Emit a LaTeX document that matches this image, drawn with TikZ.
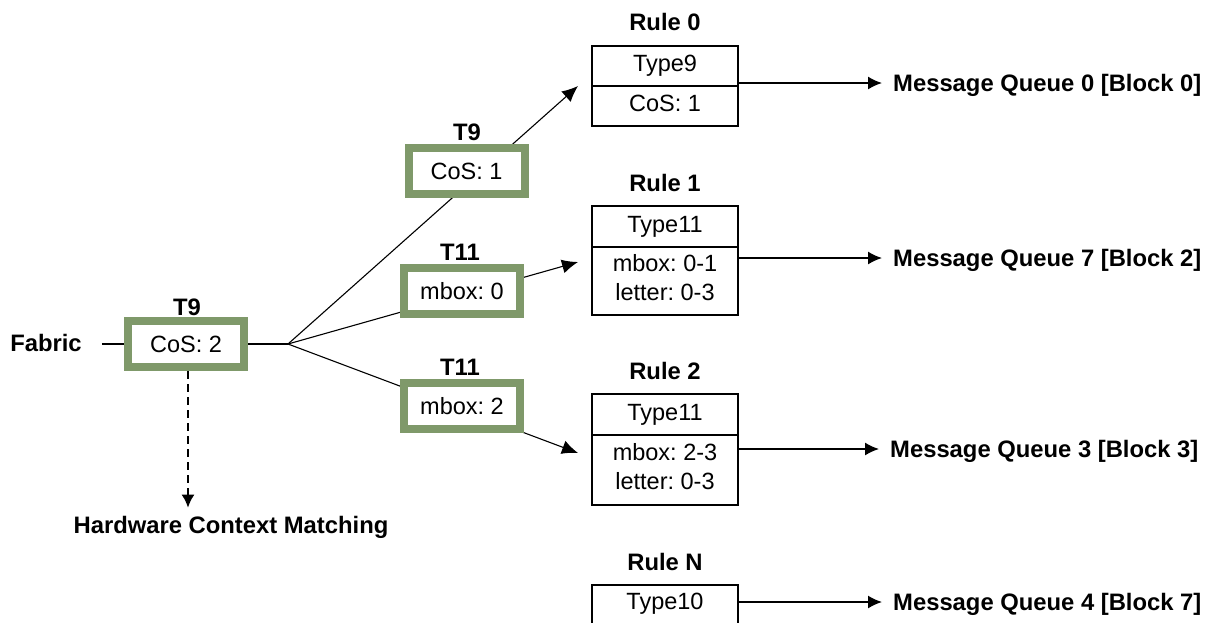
\documentclass[tikz,border=0pt]{standalone}
\usepackage{fontspec}
\setmainfont{Liberation Sans}
\usetikzlibrary{arrows.meta}
\definecolor{boxgreen}{RGB}{127,153,106}
\frenchspacing
\begin{document}
\begin{tikzpicture}[x=1pt,y=-1pt,
  txt/.style={inner sep=0pt, text height=16.8pt, text depth=0pt, font=\fontsize{23.5}{29}\selectfont},
  rtxt/.style={inner sep=0pt, text height=16.8pt, text depth=4.9pt, font=\fontsize{23.5}{29}\selectfont},
  lbl/.style={inner sep=0pt, text height=17pt, text depth=0pt, font=\fontsize{23.8}{28}\selectfont\bfseries},
  gbox/.style={txt, draw=boxgreen, line width=8pt, fill=white, minimum width=116pt, minimum height=46pt},
  rbox/.style={rtxt, draw, line width=1.4pt, minimum width=146pt},
  arr/.style={line width=1.5pt, -{Latex[length=14pt,width=13pt]}},
  diag/.style={line width=1.1pt, -{Latex[length=16pt,width=14pt]}},
  hwarr/.style={line width=2pt, dash pattern=on 8pt off 5pt, -{Latex[length=13pt,width=13pt]}},
]
\useasboundingbox (0,0) rectangle (1209,622);

% Rule boxes
\node[lbl] (rl0) at (665,22) {Rule 0};
\node[rbox, minimum height=40pt] (r0a) at (665,66) {Type9};
\node[rbox, minimum height=40pt] (r0b) at (665,106) {CoS: 1};

\node[lbl] (rl1) at (665,183) {Rule 1};
\node[rbox, minimum height=41pt] (r1a) at (665,226.5) {Type11};
\node[rbox, minimum height=68pt] (r1b) at (665,281) {};
\node[txt] (r1t1) at (665,263) {mbox: 0-1};
\node[txt] (r1t2) at (665,292) {letter: 0-3};

\node[lbl] (rl2) at (665,371) {Rule 2};
\node[rbox, minimum height=41pt] (r2a) at (665,414.5) {Type11};
\node[rbox, minimum height=70pt] (r2b) at (665,470) {};
\node[txt] (r2t1) at (665,452) {mbox: 2-3};
\node[txt] (r2t2) at (665,481.5) {letter: 0-3};

\node[lbl] (rlN) at (665,562) {Rule N};
\node[rbox, minimum height=40pt] (rNa) at (665,605) {};
\node[rtxt] (rNt) at (665,604) {Type10};

% Message queues
\node[lbl, anchor=west] (mq0) at (893,83) {Message Queue 0 [Block 0]};
\node[lbl, anchor=west] (mq7) at (893,258) {Message Queue 7 [Block 2]};
\node[lbl, anchor=west] (mq3) at (890,449) {Message Queue 3 [Block 3]};
\node[lbl, anchor=west] (mq4) at (893,602) {Message Queue 4 [Block 7]};
\draw[arr] (mq0.west -| r0a.east) -- ([xshift=-11pt]mq0.west);
\draw[arr] (mq7.west -| r1b.east) -- ([xshift=-11pt]mq7.west);
\draw[arr] (mq3.west -| r2b.east) -- ([xshift=-11pt]mq3.west);
\draw[arr] (mq4.west -| rNa.east) -- ([xshift=-11pt]mq4.west);

% branching
\coordinate (br) at (288,344);
\coordinate (tp0) at (578,86);
\coordinate (tp1) at (578,262);
\coordinate (tp2) at (578,453);
\draw[diag] (br) -- (tp0);
\draw[diag] (br) -- (tp1);
\draw[diag] (br) -- (tp2);

% green filter boxes
\node[lbl] (t9b) at (467,132) {T9};
\node[gbox] (cos1) at (466.5,171) {CoS: 1};
\node[lbl] (t11a) at (460,252) {T11};
\node[gbox] (mb0) at (462,291) {mbox: 0};
\node[lbl] (t11b) at (460,367) {T11};
\node[gbox] (mb2) at (462,406) {mbox: 2};

% left part
\node[lbl] (fab) at (46,343) {Fabric};
\node[lbl] (t9a) at (187,307) {T9};
\node[gbox] (cos2) at (186,344) {CoS: 2};
\draw[line width=1.7pt] ([xshift=20pt]fab.east |- cos2.west) -- (cos2.west);
\draw[line width=1.7pt] (cos2.east) -- (br);
\node[lbl] (hcm) at (231,525) {Hardware Context Matching};
\draw[hwarr] ([xshift=2pt]cos2.south) -- ([xshift=2pt,yshift=8.6pt]cos2.south |- hcm.north);
\end{tikzpicture}
\end{document}
